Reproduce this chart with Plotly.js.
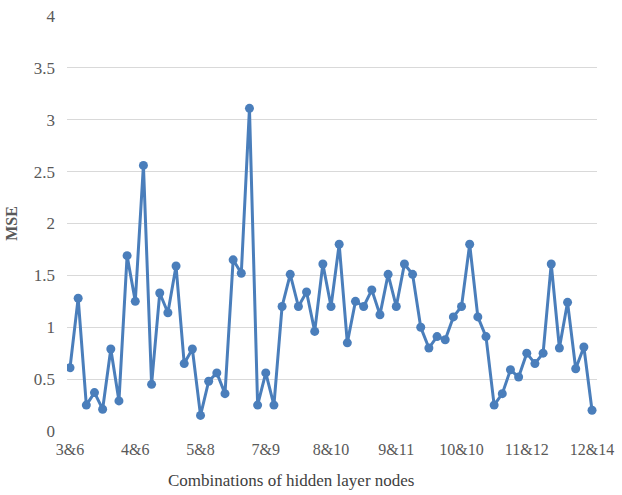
<!DOCTYPE html>
<html>
<head>
<meta charset="utf-8">
<script src="https://cdn.plot.ly/plotly-3.0.1.min.js"></script>
<style>
  html, body { margin: 0; padding: 0; background: #ffffff; }
  #chart { width: 622px; height: 495px; }
</style>
</head>
<body>
<div id="chart"></div>
<script>
// MSE for each tested combination of hidden layer nodes (65 runs)
const mseValues = [
  0.61, 1.28, 0.25, 0.37, 0.21, 0.79, 0.29, 1.69, 1.25, 2.56,
  0.45, 1.33, 1.14, 1.59, 0.65, 0.79, 0.15, 0.48, 0.56, 0.36,
  1.65, 1.52, 3.11, 0.25, 0.56, 0.25, 1.20, 1.51, 1.20, 1.34,
  0.96, 1.61, 1.20, 1.80, 0.85, 1.25, 1.20, 1.36, 1.12, 1.51,
  1.20, 1.61, 1.51, 1.00, 0.80, 0.91, 0.88, 1.10, 1.20, 1.80,
  1.10, 0.91, 0.25, 0.36, 0.59, 0.52, 0.75, 0.65, 0.75, 1.61,
  0.80, 1.24, 0.60, 0.81, 0.20
];
const runIndex = mseValues.map((_, i) => i);

// labelled combinations along the x axis
const tickPositions = [0, 8, 16, 24, 32, 40, 48, 56, 64];
const tickLabels = ['3&6', '4&6', '5&8', '7&9', '8&10', '9&11', '10&10', '11&12', '12&14'];
const xTitle = 'Combinations of hidden layer nodes';

const serif = 'Liberation Serif, Times New Roman, DejaVu Serif, serif';
const blue = '#4a7ebb';

const trace = {
  x: runIndex,
  y: mseValues,
  type: 'scatter',
  mode: 'lines+markers',
  line: { color: blue, width: 3 },
  marker: { color: blue, size: 9 },
  hoverinfo: 'y'
};

const layout = {
  width: 622,
  height: 495,
  margin: { l: 67, r: 25, t: 16, b: 64 },
  paper_bgcolor: '#ffffff',
  plot_bgcolor: '#ffffff',
  showlegend: false,
  font: { family: serif, color: '#595959', size: 16 },
  xaxis: {
    range: [-0.37, 64.61],
    tickmode: 'array',
    tickvals: tickPositions,
    ticktext: tickLabels,
    showgrid: false,
    zeroline: false,
    showline: false,
    ticks: '',
    ticklabelstandoff: 7,
    tickfont: { family: serif, size: 16, color: '#595959' }
  },
  yaxis: {
    range: [0, 4],
    dtick: 0.5,
    tick0: 0,
    showgrid: true,
    gridcolor: '#d9d9d9',
    gridwidth: 1,
    zeroline: false,
    showline: false,
    ticks: '',
    ticklabelstandoff: 11,
    tickfont: { family: serif, size: 17, color: '#595959' },
    title: {
      text: '<b>MSE</b>',
      font: { family: serif, size: 16, color: '#595959' },
      standoff: 12
    }
  },
  // x-axis caption sits slightly left of the plot centre
  annotations: [{
    text: xTitle,
    xref: 'paper', yref: 'paper',
    x: (291 - 67) / 530, y: -(480 - 431) / 415,
    xanchor: 'center', yanchor: 'middle',
    showarrow: false,
    font: { family: serif, size: 17, color: '#404040' }
  }]
};

Plotly.newPlot('chart', [trace], layout, { displayModeBar: false, staticPlot: true });
</script>
</body>
</html>
